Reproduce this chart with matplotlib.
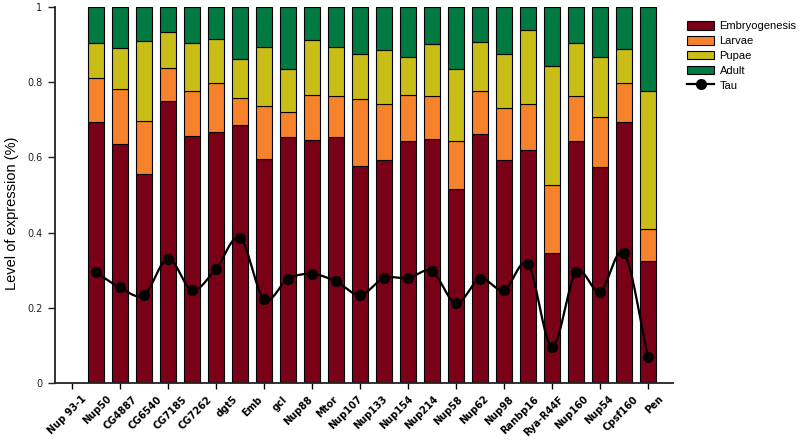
import numpy as np
import matplotlib
matplotlib.use("Agg")
import matplotlib.pyplot as plt

genes = ['Nup 93-1', 'Nup50', 'CG4887', 'CG6540', 'CG7185', 'CG7262', 'dgt5', 'Emb',
         'gcl', 'Nup88', 'Mtor', 'Nup107', 'Nup133', 'Nup154', 'Nup214', 'Nup58',
         'Nup62', 'Nup98', 'Ranbp16', 'Rya-R44F', 'Nup160', 'Nup54', 'Cpsf160', 'Pen']

# cumulative tops
emb_top = [0.695, 0.636, 0.555, 0.750, 0.656, 0.668, 0.685, 0.596, 0.653, 0.646, 0.653, 0.577,
           0.593, 0.644, 0.648, 0.517, 0.662, 0.593, 0.621, 0.345, 0.644, 0.574, 0.695, 0.325]
larv_top = [0.810, 0.782, 0.696, 0.837, 0.777, 0.797, 0.759, 0.738, 0.720, 0.767, 0.762, 0.755,
            0.741, 0.766, 0.762, 0.643, 0.776, 0.731, 0.741, 0.527, 0.764, 0.707, 0.797, 0.410]
pup_top = [0.905, 0.892, 0.910, 0.934, 0.903, 0.916, 0.862, 0.893, 0.836, 0.912, 0.894, 0.875,
           0.886, 0.866, 0.901, 0.835, 0.908, 0.875, 0.940, 0.844, 0.905, 0.868, 0.888, 0.777]
tau = [0.294, 0.254, 0.234, 0.331, 0.247, 0.304, 0.386, 0.223, 0.277, 0.290, 0.270, 0.234,
       0.279, 0.279, 0.297, 0.212, 0.277, 0.247, 0.316, 0.097, 0.295, 0.243, 0.345, 0.070]

emb = np.array(emb_top)
larvae = np.array(larv_top) - emb
pupae = np.array(pup_top) - np.array(larv_top)
adult = 1.0 - np.array(pup_top)

c_emb = '#7a0018'
c_larv = '#f7822c'
c_pup = '#c9be18'
c_adult = '#007a40'


def catmull(x, y, n=20):
    x = np.asarray(x, float)
    y = np.asarray(y, float)
    px = np.concatenate([[2 * x[0] - x[1]], x, [2 * x[-1] - x[-2]]])
    py = np.concatenate([[2 * y[0] - y[1]], y, [2 * y[-1] - y[-2]]])
    xs, ys = [], []
    t = np.linspace(0, 1, n, endpoint=False)
    for i in range(1, len(px) - 2):
        for p, out in ((px, xs), (py, ys)):
            p0, p1, p2, p3 = p[i - 1], p[i], p[i + 1], p[i + 2]
            out.extend(0.5 * (2 * p1 + (-p0 + p2) * t + (2 * p0 - 5 * p1 + 4 * p2 - p3) * t ** 2
                              + (-p0 + 3 * p1 - 3 * p2 + p3) * t ** 3))
    xs.append(x[-1])
    ys.append(y[-1])
    return np.array(xs), np.array(ys)


fig = plt.figure(figsize=(8, 4.42), dpi=100)
ax = fig.add_axes([55 / 800, 1 - 383 / 442, (673 - 55) / 800, 376 / 442])

x = np.arange(1, len(genes) + 1)
w = 0.63
kw = dict(width=w, edgecolor='black', linewidth=0.8)
ax.bar(x, emb, color=c_emb, label='Embryogenesis', **kw)
ax.bar(x, larvae, bottom=emb, color=c_larv, label='Larvae', **kw)
ax.bar(x, pupae, bottom=emb + larvae, color=c_pup, label='Pupae', **kw)
ax.bar(x, adult, bottom=emb + larvae + pupae, color=c_adult, label='Adult', **kw)

sx, sy = catmull(x, tau)
ax.plot(sx, sy, color='black', lw=1.6, zorder=3)
ax.plot(x, tau, 'o', color='black', ms=7, zorder=4)
ax.plot([], [], '-o', color='black', lw=1.6, ms=7, label='Tau')

ax.set_xlim(-0.71, 25.04)
ax.set_ylim(0, 1)
ax.spines['top'].set_visible(False)
ax.spines['right'].set_visible(False)
for s in ('left', 'bottom'):
    ax.spines[s].set_linewidth(1.3)
    ax.spines[s].set_color('#222222')

ax.set_yticks([0, 0.2, 0.4, 0.6, 0.8, 1.0])
ax.set_yticklabels(['0', '0.2', '0.4', '0.6', '0.8', '1'])
ax.tick_params(axis='y', length=5, width=1, labelsize=7, colors='#222222', pad=4)

# ticks every other slot, labels spread separately as in the figure
ax.set_xticks(np.arange(0, 25, 2), minor=True)
ax.tick_params(axis='x', which='minor', length=4, width=1)
label_pos = 0.4 + np.arange(len(genes)) * 1.045
ax.set_xticks(label_pos)
ax.set_xticklabels(genes, rotation=45, ha='right', va='top', rotation_mode='anchor',
                   fontsize=7, fontweight='bold')
ax.tick_params(axis='x', which='major', length=0, pad=8)

ax.set_ylabel('Level of expression (%)', fontsize=10.5, family='Liberation Sans')
ax.yaxis.set_label_coords(-0.058, 0.45)

handles, labels = ax.get_legend_handles_labels()
order = ['Embryogenesis', 'Larvae', 'Pupae', 'Adult', 'Tau']
hl = dict(zip(labels, handles))
fig.legend([hl[k] for k in order], order, loc='upper left', bbox_to_anchor=(684 / 800, 1 - 18 / 442),
           frameon=False, prop={'family': 'Liberation Sans', 'size': 8},
           handlelength=2.4, handleheight=0.8, labelspacing=0.42, handletextpad=0.5,
           borderaxespad=0, borderpad=0.3)

fig.savefig('out.png', dpi=100)
